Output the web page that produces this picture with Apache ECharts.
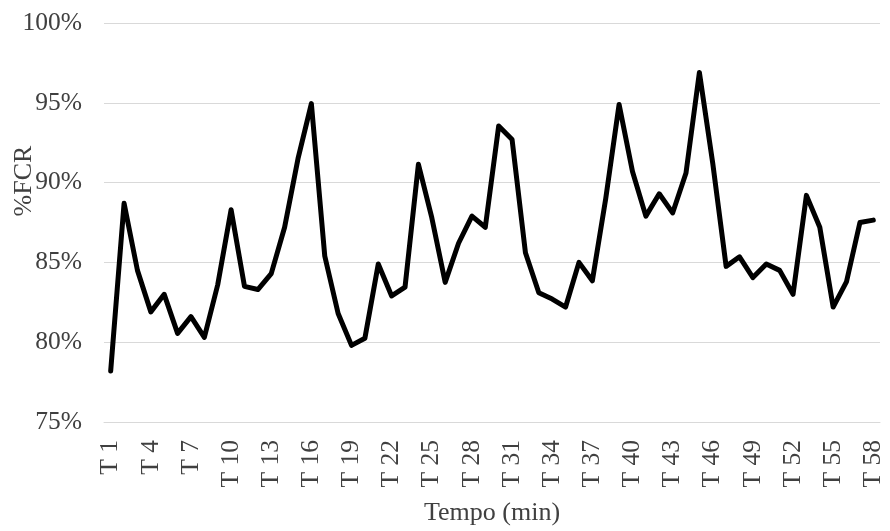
<!DOCTYPE html>
<html>
<head>
<meta charset="utf-8">
<script src="https://cdn.jsdelivr.net/npm/echarts@6/dist/echarts.min.js"></script>
<style>
html,body{margin:0;padding:0;background:#fff;}
#chart{width:890px;height:531px;}
</style>
</head>
<body>
<div id="chart"></div>
<script>
const categories = [];
for (let i = 1; i <= 58; i++) categories.push('T ' + i);

const fcrValues = [
  78.2, 88.7, 84.5, 81.9, 83.0, 80.55, 81.6, 80.3, 83.6, 88.3,
  83.5, 83.3, 84.3, 87.2, 91.5, 94.95, 85.4, 81.8, 79.8, 80.25,
  84.9, 82.9, 83.45, 91.15, 87.8, 83.75, 86.2, 87.9, 87.2, 93.55,
  92.7, 85.6, 83.1, 82.7, 82.2, 85.0, 83.85, 89.0, 94.9, 90.7,
  87.9, 89.3, 88.1, 90.6, 96.9, 91.2, 84.75, 85.35, 84.05, 84.9,
  84.5, 83.0, 89.2, 87.2, 82.2, 83.8, 87.5, 87.65
];

const yTicks = { min: 75, max: 100, step: 5 };

const fontFamily = '"Liberation Serif", "Times New Roman", serif';
const textColor = '#404040';

const chart = echarts.init(document.getElementById('chart'), null, { renderer: 'canvas' });
chart.setOption({
  animation: false,
  backgroundColor: '#ffffff',
  grid: { left: 104, right: 10, top: 23, bottom: 107, containLabel: false },
  xAxis: {
    type: 'category',
    data: categories,
    boundaryGap: true,
    name: 'Tempo (min)',
    nameLocation: 'middle',
    nameGap: 78,
    nameTextStyle: { fontFamily: fontFamily, fontSize: 26, color: textColor },
    axisLine: { show: true, lineStyle: { color: '#d9d9d9', width: 1 } },
    axisTick: { show: false },
    axisLabel: {
      interval: 2,
      rotate: 90,
      margin: 18,
      fontFamily: fontFamily,
      fontSize: 25.5,
      color: textColor
    },
    splitLine: { show: false }
  },
  yAxis: {
    type: 'value',
    min: yTicks.min,
    max: yTicks.max,
    interval: yTicks.step,
    axisLine: { show: false },
    axisTick: { show: false },
    axisLabel: {
      formatter: '{value}%',
      margin: 22,
      fontFamily: fontFamily,
      fontSize: 25.5,
      color: textColor
    },
    splitLine: { show: true, lineStyle: { color: '#d9d9d9', width: 1 } }
  },
  graphic: [{
    type: 'text',
    x: 24,
    y: 181,
    rotation: Math.PI / 2,
    style: {
      text: '%FCR',
      fontFamily: fontFamily,
      fontSize: 26,
      fill: textColor,
      align: 'center',
      verticalAlign: 'middle'
    }
  }],
  series: [{
    type: 'line',
    data: fcrValues,
    showSymbol: false,
    symbol: 'none',
    lineStyle: { color: '#000000', width: 5, cap: 'round', join: 'round' }
  }]
});
</script>
</body>
</html>
